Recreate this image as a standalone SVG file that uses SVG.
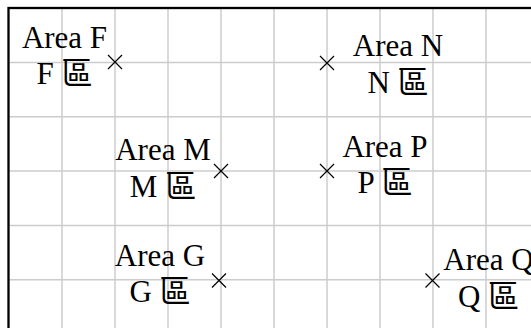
<svg xmlns="http://www.w3.org/2000/svg" width="531" height="328" viewBox="0 0 531 328">
<style>
.grid line{stroke:#cccccc;stroke-width:1.5}
.frame{fill:none;stroke:#000;stroke-width:2.3}
.mk{stroke:#000;stroke-width:1.2;fill:none}
text{font-family:"Liberation Serif","Noto Sans CJK TC",serif;font-size:31px;fill:#000;text-anchor:middle}
</style>
<rect width="531" height="328" fill="#fff"/>
<g class="grid">
<line x1="62" y1="8" x2="62" y2="328"/>
<line x1="115" y1="8" x2="115" y2="328"/>
<line x1="168" y1="8" x2="168" y2="328"/>
<line x1="221" y1="8" x2="221" y2="328"/>
<line x1="274" y1="8" x2="274" y2="328"/>
<line x1="327" y1="8" x2="327" y2="328"/>
<line x1="380" y1="8" x2="380" y2="328"/>
<line x1="433" y1="8" x2="433" y2="328"/>
<line x1="486" y1="8" x2="486" y2="328"/>
<line x1="8" y1="62.5" x2="531" y2="62.5"/>
<line x1="8" y1="116.8" x2="531" y2="116.8"/>
<line x1="8" y1="171.1" x2="531" y2="171.1"/>
<line x1="8" y1="225.4" x2="531" y2="225.4"/>
<line x1="8" y1="279.7" x2="531" y2="279.7"/>
</g>
<rect class="frame" x="8.5" y="8" width="600" height="400"/>
<defs>
<path id="x" class="mk" d="M-7,-7L7,7M-7,7L7,-7"/>
</defs>
<g id="F">
<use href="#x" x="115" y="62"/>
<text x="64.5" y="47.5">Area F</text>
<text x="64.5" y="84">F 區</text>
</g>
<g id="N">
<use href="#x" x="327" y="63"/>
<text x="398" y="56">Area N</text>
<text x="398" y="92.5">N 區</text>
</g>
<g id="M">
<use href="#x" x="221" y="171"/>
<text x="163" y="160">Area M</text>
<text x="163" y="196.5">M 區</text>
</g>
<g id="P">
<use href="#x" x="327" y="171"/>
<text x="385" y="156.7">Area P</text>
<text x="385" y="193.3">P 區</text>
</g>
<g id="G">
<use href="#x" x="219" y="280.5"/>
<text x="160" y="265.7">Area G</text>
<text x="160" y="302.3">G 區</text>
</g>
<g id="Q">
<use href="#x" x="432.5" y="280.5"/>
<text x="488.5" y="270">Area Q</text>
<text x="488.5" y="306.6">Q 區</text>
</g>
</svg>
